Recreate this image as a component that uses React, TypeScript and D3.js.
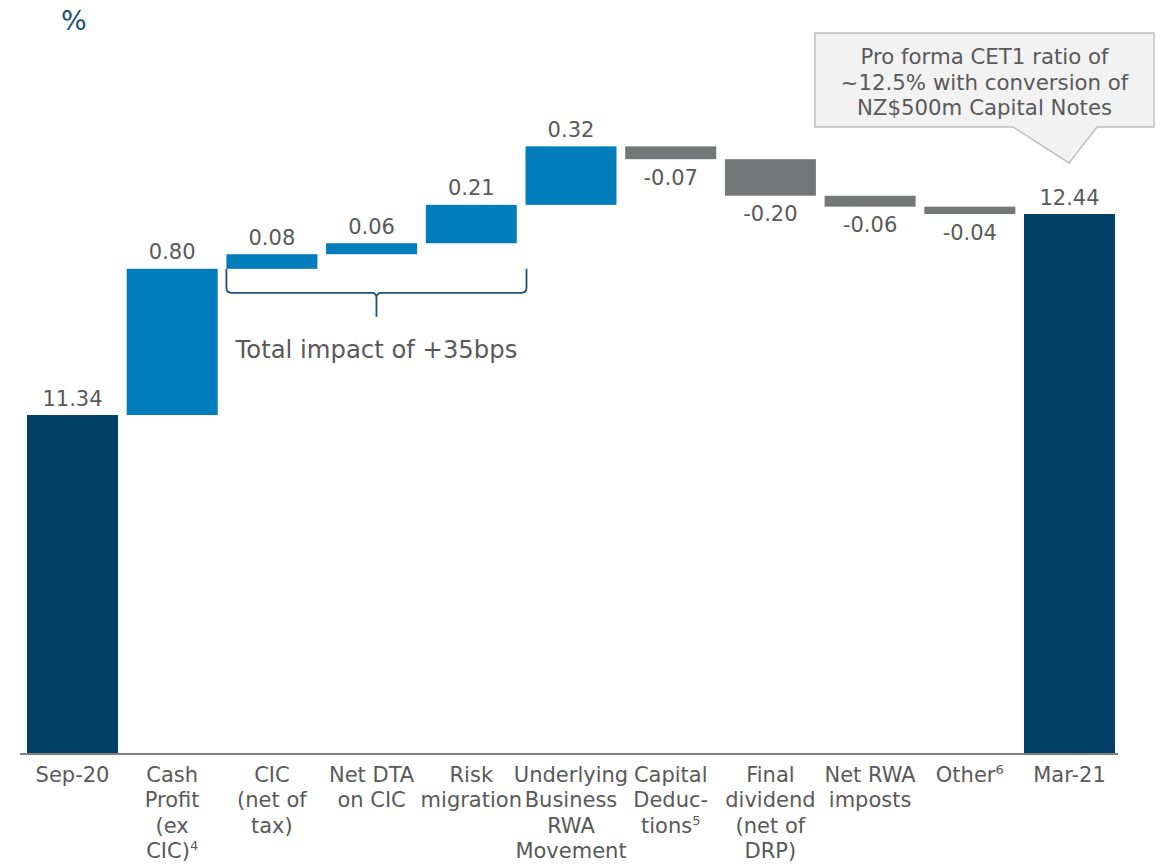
import React from "react";
import * as d3 from "d3";

const categories = ["Sep-20","Cash Profit","CIC","Net DTA","Risk migration","Underlying","Capital Deductions","Final dividend","Net RWA imposts","Other","Mar-21"];
const categoryLines: string[][] = [
  ["Sep-20"],
  ["Cash","Profit","(ex","CIC)^4"],
  ["CIC","(net of","tax)"],
  ["Net DTA","on CIC"],
  ["Risk","migration"],
  ["Underlying","Business","RWA","Movement"],
  ["Capital","Deduc-","tions^5"],
  ["Final","dividend","(net of","DRP)"],
  ["Net RWA","imposts"],
  ["Other^6"],
  ["Mar-21"],
];
const values = [11.34, 0.80, 0.08, 0.06, 0.21, 0.32, -0.07, -0.20, -0.06, -0.04, 12.44];
const kinds = ["total","up","up","up","up","up","down","down","down","down","total"];
const valueLabels = ["11.34","0.80","0.08","0.06","0.21","0.32","-0.07","-0.20","-0.06","-0.04","12.44"];
const calloutLines = ["Pro forma CET1 ratio of","~12.5% with conversion of","NZ$500m Capital Notes"];
const braceText = "Total impact of +35bps";

const COLORS: Record<string,string> = { total: "#004165", up: "#007DBA", down: "#747678" };
const FONT = "'DejaVu Sans', Verdana, sans-serif";
const TXT = "#595959";

function renderLine(s: string) {
  const m = s.split("^");
  if (m.length === 1) return s;
  return (<>{m[0]}<tspan fontSize={13} dy={-8}>{m[1]}</tspan></>);
}

export default function App() {
  const W = 1166, H = 864;
  const x = d3.scaleBand<string>().domain(categories).range([22.65, 1119.35]).paddingInner(0.0873).paddingOuter(0.0436);
  const y = d3.scaleLinear().domain([9.485, 12.44]).range([754, 214]);
  const base = y.domain()[0];

  let cum = 0;
  const bars = values.map((v, i) => {
    let y0: number, y1: number;
    if (kinds[i] === "total") { y0 = base; y1 = v; cum = v; }
    else { y0 = cum; y1 = cum + v; cum = y1; }
    return { cat: categories[i], lo: Math.min(y0, y1), hi: Math.max(y0, y1), kind: kinds[i], label: valueLabels[i] };
  });

  const bw = x.bandwidth();
  const braceL = x(categories[2])!;
  const braceR = x(categories[5])! + 1;
  const braceMid = (braceL + braceR) / 2;
  const braceTop = y(bars[1].hi);
  const braceY = braceTop + 24;

  const lastX = x(categories[10])!;

  return (
    <svg width={W} height={H} style={{ display: "block", position: "absolute", left: 0, top: 0 }} fontFamily={FONT}>
      <text x={61} y={30} fontSize={27} fill="#1a5179">%</text>
      {bars.map((b, i) => (
        <rect key={i} x={x(b.cat)} y={y(b.hi)} width={bw} height={Math.max(1, y(b.lo) - y(b.hi))} fill={COLORS[b.kind]} />
      ))}
      {bars.map((b, i) => {
        const cx = x(b.cat)! + bw / 2;
        const ty = b.kind === "down" ? y(b.lo) + 25.5 : y(b.hi) - 9.5;
        return <text key={"l" + i} x={cx} y={ty} textAnchor="middle" fontSize={21} fill={TXT}>{b.label}</text>;
      })}
      <line x1={20} x2={1118} y1={754} y2={754} stroke="#808080" strokeWidth={2} />
      {categoryLines.map((lines, i) => (
        <text key={"c" + i} textAnchor="middle" fontSize={21} fill={TXT}>
          {lines.map((ln, j) => (
            <tspan key={j} x={x(categories[i])! + bw / 2} y={782 + j * 25.3}>{renderLine(ln)}</tspan>
          ))}
        </text>
      ))}
      <path
        d={`M${braceL},${braceTop} L${braceL},${braceY - 5} Q${braceL},${braceY} ${braceL + 5},${braceY} L${braceMid - 5},${braceY} Q${braceMid},${braceY} ${braceMid},${braceY + 5} L${braceMid},${braceY + 24} M${braceMid},${braceY + 5} Q${braceMid},${braceY} ${braceMid + 5},${braceY} L${braceR - 5},${braceY} Q${braceR},${braceY} ${braceR},${braceY - 5} L${braceR},${braceTop}`}
        fill="none" stroke="#1f4e79" strokeWidth={1.8}
      />
      <text x={braceMid} y={358} textAnchor="middle" fontSize={24.3} fill={TXT}>{braceText}</text>
      <path
        d={`M815,33 L1154,33 L1154,127 L${lastX + 73},127 L${lastX + 45},163 L${lastX - 11},127 L815,127 Z`}
        fill="#f2f2f2" stroke="#c0c0c0" strokeWidth={1.5}
      />
      {calloutLines.map((t, i) => (
        <text key={"k" + i} x={984.5} y={64 + i * 25.5} textAnchor="middle" fontSize={21.3} fill={TXT}>{t}</text>
      ))}
    </svg>
  );
}
